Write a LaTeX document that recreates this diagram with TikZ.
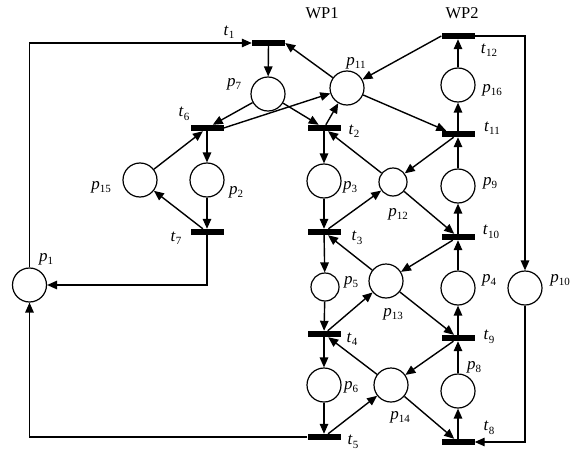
\documentclass[tikz,border=0pt]{standalone}
\usepackage{fontspec}
\setmainfont{Liberation Serif}
\usetikzlibrary{arrows.meta}
\newcommand\pl[2]{\textit{#1}\raisebox{-3.5pt}{\fontsize{11}{12}\selectfont #2}}
\begin{document}
\begin{tikzpicture}[x=1pt,y=-1pt,
  place/.style={circle,draw,line width=1.2pt,minimum size=34pt,inner sep=0pt},
  splace/.style={place,minimum size=28pt},
  bar/.style={fill=black,draw=none,minimum width=33pt,minimum height=6pt,inner sep=0pt},
  arc/.style={line width=1.4pt,-{Triangle[length=10pt,width=8.5pt]}},
  lab/.style={font=\fontsize{17}{18}\selectfont,inner sep=0pt},
  head/.style={font=\fontsize{16.5}{18}\selectfont,inner sep=0pt}]
\useasboundingbox (0,0) rectangle (575,452);
% places
\node[place]  (p1)  at (29.5,285) {};
\node[place]  (p7)  at (268,94) {};
\node[place]  (p15) at (140,180) {};
\node[place]  (p2)  at (207,180) {};
\node[place]  (p11) at (347,88) {};
\node[place]  (p3)  at (324,181) {};
\node[splace] (p12) at (393,182) {};
\node[splace] (p5)  at (325,287) {};
\node[place]  (p13) at (386,281) {};
\node[place]  (p6)  at (324,385) {};
\node[place]  (p14) at (391,385) {};
\node[place]  (p16) at (458,85) {};
\node[place]  (p9)  at (458,186) {};
\node[place]  (p4)  at (458,288) {};
\node[place]  (p8)  at (458,391) {};
\node[place]  (p10) at (525,288) {};
% transitions
\node[bar] (t1)  at (268.5,43) {};
\node[bar] (t6)  at (207,128) {};
\node[bar] (t7)  at (207,232) {};
\node[bar] (t2)  at (324,128) {};
\node[bar] (t3)  at (324,232) {};
\node[bar] (t4)  at (324,334) {};
\node[bar] (t5)  at (324,437) {};
\node[bar] (t12) at (458,36) {};
\node[bar] (t11) at (458,134) {};
\node[bar] (t10) at (458,237) {};
\node[bar] (t9)  at (458,338) {};
\node[bar] (t8)  at (458,442) {};
% labels
\node[head] (wp1) at (322,13) {WP1};
\node[head] (wp2) at (462,13) {WP2};
\node[lab] (lt1)  at (229,32)  {\pl{t}{1}};
\node[lab] (lp7)  at (234,84)  {\pl{p}{7}};
\node[lab] (lt6)  at (184,114) {\pl{t}{6}};
\node[lab] (lp15) at (101,187) {\pl{p}{15}};
\node[lab] (lp2)  at (236,192) {\pl{p}{2}};
\node[lab] (lt7)  at (176,238) {\pl{t}{7}};
\node[lab] (lp1)  at (46,259)  {\pl{p}{1}};
\node[lab] (lp11) at (356,63)  {\pl{p}{11}};
\node[lab] (lt12) at (489,50)  {\pl{t}{12}};
\node[lab] (lp16) at (492,90)  {\pl{p}{16}};
\node[lab] (lt2)  at (354,131) {\pl{t}{2}};
\node[lab] (lt11) at (492,128) {\pl{t}{11}};
\node[lab] (lp3)  at (350,187) {\pl{p}{3}};
\node[lab] (lp12) at (398,214) {\pl{p}{12}};
\node[lab] (lp9)  at (490,183) {\pl{p}{9}};
\node[lab] (lt3)  at (357,238) {\pl{t}{3}};
\node[lab] (lt10) at (491,232) {\pl{t}{10}};
\node[lab] (lp5)  at (351,282) {\pl{p}{5}};
\node[lab] (lp13) at (393,314) {\pl{p}{13}};
\node[lab] (lp4)  at (489,280) {\pl{p}{4}};
\node[lab] (lp10) at (560,280) {\pl{p}{10}};
\node[lab] (lt4)  at (352,339) {\pl{t}{4}};
\node[lab] (lt9)  at (489,337) {\pl{t}{9}};
\node[lab] (lp8)  at (474,367) {\pl{p}{8}};
\node[lab] (lp6)  at (351,387) {\pl{p}{6}};
\node[lab] (lp14) at (400,417) {\pl{p}{14}};
\node[lab] (lt8)  at (489,428) {\pl{t}{8}};
\node[lab] (lt5)  at (353,442) {\pl{t}{5}};
% arcs
\draw[arc] (p1.north) |- (t1.west);
\draw[arc] (p11) -- (t1.east);
\draw[arc] (t1) -- (p7);
\draw[arc] (p7) -- (t6);
\draw[arc] (t6.east) -- (p11);
\draw[arc] (p15) -- (t6);
\draw[arc] (t6) -- (p2);
\draw[arc] (p2) -- (t7);
\draw[arc] (t7) -- (p15);
\draw[arc] (t7.south) |- (p1.east);
\draw[arc] (p7) -- (t2);
\draw[arc] (t2) -- (p11);
\draw[arc] (t2) -- (p3);
\draw[arc] (p12) -- (t2);
\draw[arc] (p11) -- ([xshift=5pt]t11.north west);
\draw[arc] (t11) -- (p12);
\draw[arc] (p9) -- (t11);
\draw[arc] (t11) -- (p16);
\draw[arc] (p16) -- (t12);
\draw[arc] (t12.west) -- (p11);
\draw[arc] (t12.east) -| (p10.north);
\draw[arc] (p10.south) |- (t8.east);
\draw[arc] (p3) -- (t3);
\draw[arc] (t3) -- (p12);
\draw[arc] (p12) -- (t10);
\draw[arc] (p13) -- (t3);
\draw[arc] (t10) -- (p13);
\draw[arc] (p4) -- (t10);
\draw[arc] (t10) -- (p9);
\draw[arc] (t3) -- (p5);
\draw[arc] (p5) -- (t4);
\draw[arc] (t4) -- (p13);
\draw[arc] (p13) -- (t9);
\draw[arc] (p14) -- (t4);
\draw[arc] (t9) -- (p14);
\draw[arc] (p8) -- (t9);
\draw[arc] (t9) -- (p4);
\draw[arc] (t4) -- (p6);
\draw[arc] (p6) -- (t5);
\draw[arc] (t5) -- (p14);
\draw[arc] (p14) -- (t8);
\draw[arc] (t8) -- (p8);
\draw[arc] (t5.west) -| (p1.south);
\end{tikzpicture}
\end{document}
